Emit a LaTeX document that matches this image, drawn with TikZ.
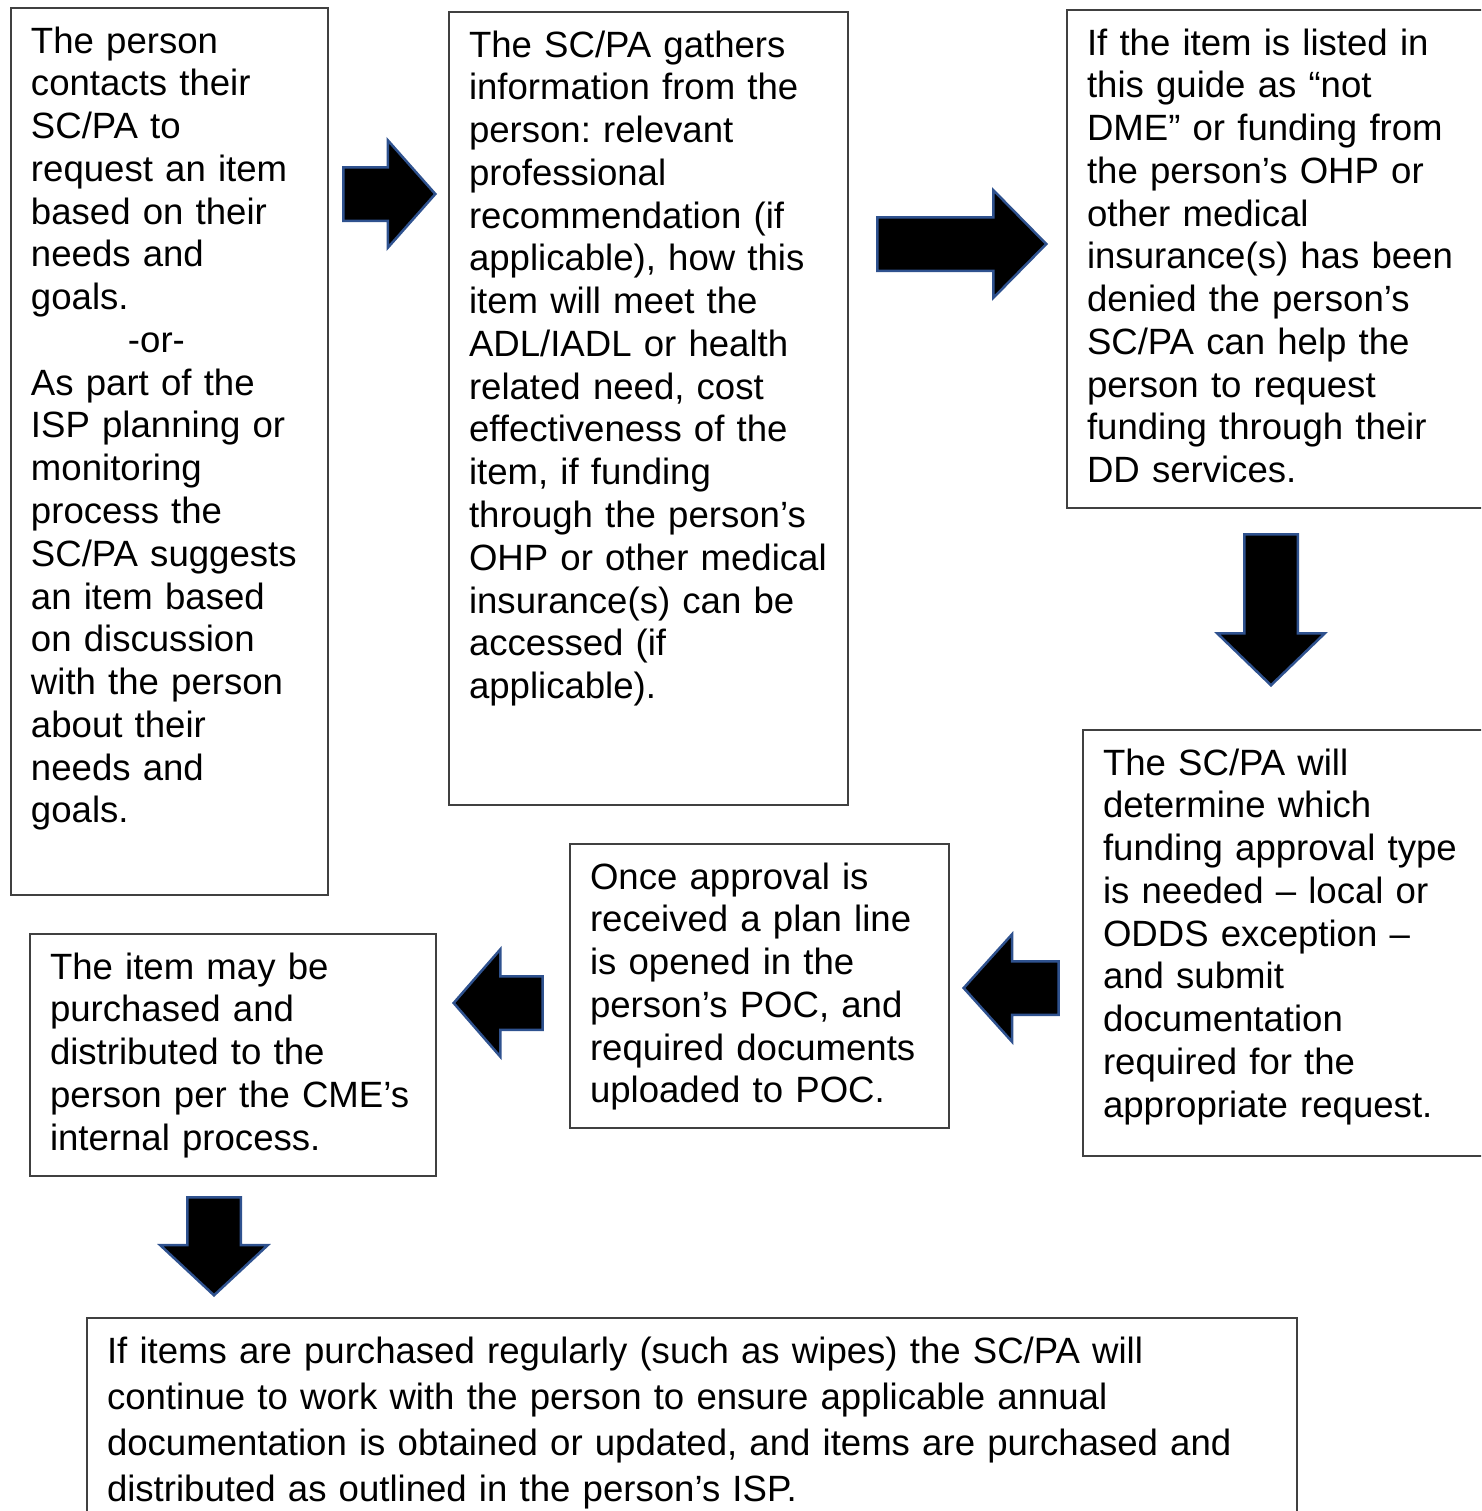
\documentclass[tikz,border=0pt]{standalone}
\usepackage{fontspec}
\setmainfont{Liberation Sans}
\usetikzlibrary{shapes.arrows}

\newlength\px
\setlength\px{0.3226pt}
\definecolor{boxline}{HTML}{404040}
\definecolor{arrowline}{HTML}{2F528F}

\begin{document}
\begin{tikzpicture}[
  x=0.3226pt, y=-0.3226pt,
  font=\fontsize{11.8}{13.8}\selectfont\frenchspacing,
  stepbox/.style 2 args={draw=boxline, line width=2\px, anchor=north west, align=left,
    inner xsep=20\px, inner ysep=5pt, text height=29.5\px, text width=#1\px, text depth=#2\px},
  blockarrow/.style={single arrow, draw=arrowline, fill=black, line width=2.5\px,
    inner xsep=0pt, inner ysep=25.5\px, single arrow head extend=27\px, anchor=tip},
]

\useasboundingbox (0,0) rectangle (1481,1511);
\clip (0,0) rectangle (1481,1511);

% Step boxes
\node[stepbox={277}{826.5}] (request) at (10,7) {
  The person\\contacts their\\SC/PA to\\request an item\\based on their\\needs and\\goals.\\
  \hspace*{97\px}-or-\\
  As part of the\\ISP planning or\\monitoring\\process the\\SC/PA suggests\\an item based\\
  on discussion\\with the person\\about their\\needs and\\goals.};
\node[stepbox={359}{732.5}] (gather) at (448,11) {
  The SC/PA gathers\\information from the\\person: relevant\\professional\\recommendation (if\\
  applicable), how this\\item will meet the\\ADL/IADL or health\\related need, cost\\
  effectiveness of the\\item, if funding\\through the person’s\\OHP or other medical\\
  insurance(s) can be\\accessed (if\\applicable).};
\node[stepbox={400}{437.5}] (listed) at (1066,9) {
  If the item is listed in\\this guide as “not\\DME” or funding from\\the person’s OHP or\\
  other medical\\insurance(s) has been\\denied the person’s\\SC/PA can help the\\
  person to request\\funding through their\\DD services.};
\node[stepbox={380}{365.5}] (determine) at (1082,729) {
  The SC/PA will\\determine which\\funding approval type\\is needed – local or\\
  ODDS exception –\\and submit\\documentation\\required for the\\appropriate request.};
\node[stepbox={339}{223.5}] (approval) at (569,843) {
  Once approval is\\received a plan line\\is opened in the\\person’s POC, and\\
  required documents\\uploaded to POC.};
\node[stepbox={366}{181.5}] (purchase) at (29,933) {
  The item may be\\purchased and\\distributed to the\\person per the CME’s\\internal process.};
\node[stepbox={1170}{159.5}, font=\fontsize{11.8}{14.84}\selectfont] (regular) at (86,1317) {
  If items are purchased regularly (such as wipes) the SC/PA will\\
  continue to work with the person to ensure applicable annual\\
  documentation is obtained or updated, and items are purchased and\\
  distributed as outlined in the person’s ISP.};

% Block arrows between the steps
\node[blockarrow, single arrow tip angle=97, minimum height=92\px] (arrA) at (437,194) {};
\node[blockarrow, single arrow tip angle=91, minimum height=169\px] (arrB) at (1048,244) {};
\node[blockarrow, single arrow tip angle=92, minimum height=151\px, rotate=270] (arrC) at (1271,687) {};
\node[blockarrow, single arrow tip angle=96, minimum height=95\px, rotate=180] (arrD) at (962,988) {};
\node[blockarrow, single arrow tip angle=98, minimum height=89\px, rotate=180] (arrE) at (452,1003) {};
\node[blockarrow, single arrow tip angle=94, minimum height=98\px, rotate=270] (arrF) at (214,1297) {};

\end{tikzpicture}
\end{document}
